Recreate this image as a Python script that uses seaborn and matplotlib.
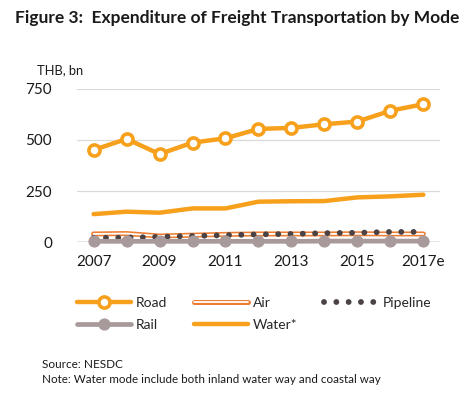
import numpy as np
import pandas as pd
import seaborn as sns
import matplotlib.pyplot as plt
import matplotlib.patheffects as pe

# data (THB, bn)
years = list(range(2007, 2018))
year_labels = ["2007", "2009", "2011", "2013", "2015", "2017e"]
road = [451, 505, 431, 487, 508, 554, 559, 577, 590, 643, 675]
water = [137, 149, 144, 165, 165, 198, 200, 201, 219, 224, 232]
air = [40, 42, 30, 34, 38, 40, 40, 40, 41, 40, 40]
pipeline = [21, 22, 26, 30, 34, 38, 40, 44, 46, 50, 50]
rail = [4, 4, 4, 4, 4, 4, 4, 5, 5, 5, 5]

sns.set_style("white")
plt.rcParams["font.family"] = ["Lato", "DejaVu Sans"]

fig = plt.figure(figsize=(4.76, 3.95), dpi=100)
ax = fig.add_axes([0.162, 0.387, 0.762, 0.388])

df = pd.DataFrame({"year": years, "Road": road, "Water*": water, "Air": air,
                   "Pipeline": pipeline, "Rail": rail})

orange = "#F7A01C"

sns.lineplot(data=df, x="year", y="Water*", ax=ax, color=orange, lw=3.2,
             label="Water*", zorder=3)
sns.lineplot(data=df, x="year", y="Air", ax=ax, color="white", lw=1.3,
             label="Air", zorder=4,
             path_effects=[pe.Stroke(linewidth=3.6, foreground="#ED7D31"), pe.Normal()])
sns.lineplot(data=df, x="year", y="Pipeline", ax=ax, color="#4a4244", lw=4.2,
             linestyle=(0, (0.01, 2.1)), dash_capstyle="round", label="Pipeline", zorder=5)
sns.lineplot(data=df, x="year", y="Rail", ax=ax, color="#A8999A", lw=3.4,
             marker="o", ms=8, mec="#A8999A", label="Rail", zorder=6, clip_on=False)
sns.lineplot(data=df, x="year", y="Road", ax=ax, color=orange, lw=3.2,
             marker="o", ms=8, mfc="white", mec=orange, mew=2.6, label="Road", zorder=7)

ax.set_xlim(2006.5, 2017.5)
ax.set_ylim(0, 750)
ax.set_yticks([0, 250, 500, 750])
ax.set_xticks(years[::2])
ax.set_xticklabels(year_labels)
ax.tick_params(axis="both", labelsize=11, length=0, colors="#1a1a1a")
ax.tick_params(axis="y", pad=18)
ax.tick_params(axis="x", pad=9)
ax.set_xlabel("")
ax.set_ylabel("")
for y in [250, 500, 750]:
    ax.axhline(y, color="#d9d9d9", lw=0.9, zorder=0)
ax.axhline(0, color="#222222", lw=0.9, zorder=1)
sns.despine(ax=ax, left=True, bottom=True)

handles, labels = ax.get_legend_handles_labels()
order = ["Road", "Rail", "Air", "Water*", "Pipeline"]
hmap = dict(zip(labels, handles))
ax.legend_.remove()
fig.legend([hmap[k] for k in order], order, ncol=3, loc="upper left",
           bbox_to_anchor=(0.135, 0.28), frameon=False, fontsize=10,
           numpoints=1, handlelength=3.9, handletextpad=0.35,
           columnspacing=1.9, labelspacing=0.75)

fig.text(0.032, 0.955, "Figure 3:  Expenditure of Freight Transportation by Mode",
         fontsize=12.5, fontweight="bold", color="#1a1a1a", va="center")
fig.text(0.078, 0.823, "THB, bn", fontsize=9.3, color="#1a1a1a", va="center")
fig.text(0.088, 0.076, "Source: NESDC", fontsize=8.5, color="#1a1a1a", va="center")
fig.text(0.088, 0.038, "Note: Water mode include both inland water way and coastal way",
         fontsize=8.4, color="#1a1a1a", va="center")

fig.savefig("out.png", dpi=100)
